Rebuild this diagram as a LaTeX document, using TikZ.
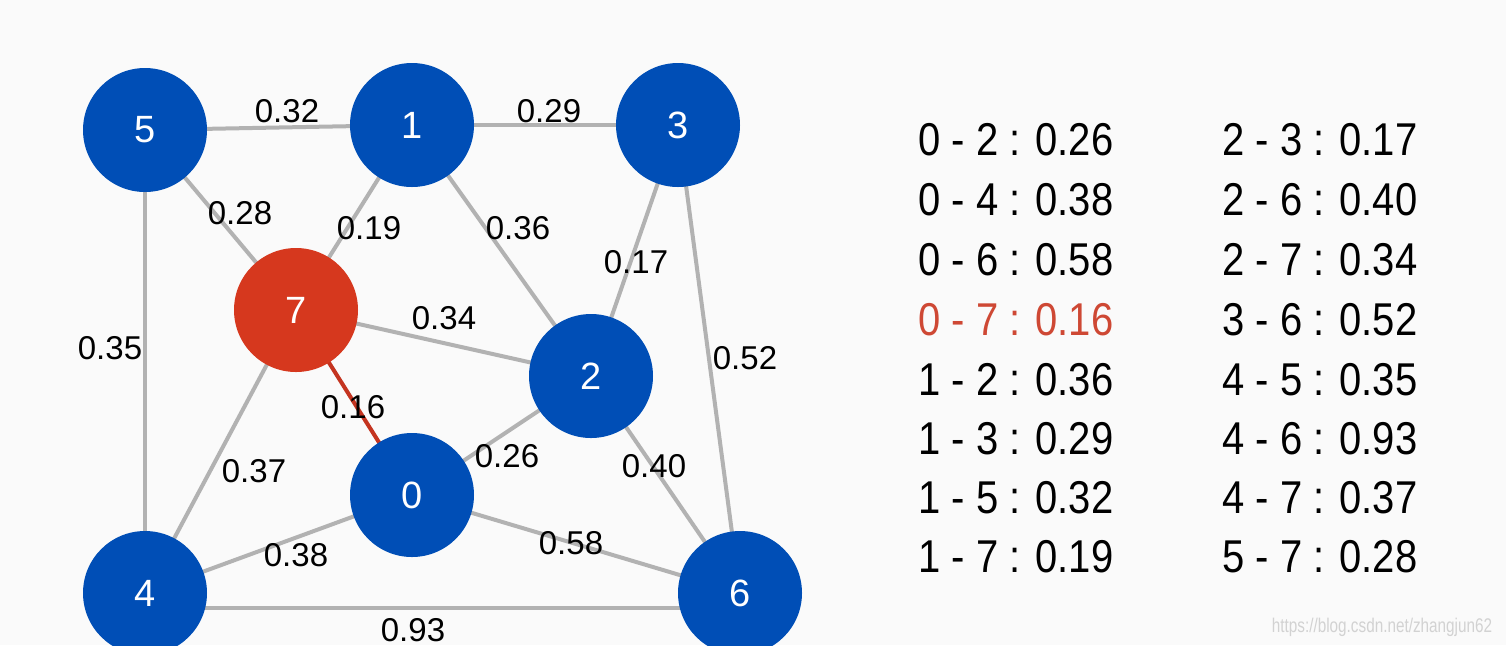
\documentclass[tikz,border=0pt]{standalone}
\usepackage{graphicx}
\usepackage{fontspec}
\setmainfont{Liberation Sans}
\definecolor{nodeblue}{RGB}{0,78,182}
\definecolor{nodered}{RGB}{214,56,30}
\definecolor{edgegray}{RGB}{178,178,178}
\definecolor{edgered}{RGB}{196,52,32}
\definecolor{textred}{RGB}{206,72,52}
\definecolor{bg}{RGB}{250,250,250}
\definecolor{wm}{RGB}{210,210,210}
\newcommand{\tall}[1]{\scalebox{1}[1.15]{#1}}
\begin{document}
\begin{tikzpicture}[x=0.5pt,y=-0.5pt,
  vertex/.style={circle,minimum size=62pt,inner sep=0pt,text=white,font=\fontsize{19}{19}\selectfont},
  bluev/.style={vertex,fill=nodeblue},
  redv/.style={vertex,fill=nodered},
  edge/.style={draw=edgegray,line width=2pt},
  hotedge/.style={draw=edgered,line width=2pt},
  wlabel/.style={font=\fontsize{16.5}{16.5}\selectfont,text=black,inner sep=0pt},
  tabrow/.style={font=\fontsize{20}{20}\selectfont,anchor=west,inner sep=0pt,text=black}]
\fill[bg] (0,0) rectangle (1506,645);
\useasboundingbox (0,0) rectangle (1506,645);
% vertex positions
\coordinate (p5) at (145,130);
\coordinate (p1) at (412,125);
\coordinate (p3) at (678,125);
\coordinate (p7) at (296,310);
\coordinate (p2) at (591,376);
\coordinate (p0) at (412,495);
\coordinate (p4) at (145,593);
\coordinate (p6) at (740,593);
% edges
\draw[edge] (p5) -- (p1);
\draw[edge] (p1) -- (p3);
\draw[edge] (p5) -- (p7);
\draw[edge] (p1) -- (p7);
\draw[edge] (p1) -- (p2);
\draw[edge] (p3) -- (p2);
\draw[edge] (p3) -- (p6);
\draw[edge] (p5) -- (p4);
\draw[edge] (p7) -- (p2);
\draw[edge] (p7) -- (p4);
\draw[edge] (p0) -- (p2);
\draw[edge] (p2) -- (p6);
\draw[edge] (p0) -- (p4);
\draw[edge] (p0) -- (p6);
\draw[edge] ([yshift=-15*0.5pt]p4) -- ([yshift=-15*0.5pt]p6);
\draw[hotedge] (p7) -- (p0);
% vertices
\node[bluev] (n5) at (p5) {5};
\node[bluev] (n1) at (p1) {1};
\node[bluev] (n3) at (p3) {3};
\node[redv]  (n7) at (p7) {7};
\node[bluev] (n2) at (p2) {2};
\node[bluev] (n0) at (p0) {0};
\node[bluev] (n4) at (p4) {4};
\node[bluev] (n6) at (p6) {6};
% weights
\node[wlabel] (w51) at (287,111) {0.32};
\node[wlabel] (w13) at (549,111) {0.29};
\node[wlabel] (w57) at (240,213) {0.28};
\node[wlabel] (w17) at (369,228) {0.19};
\node[wlabel] (w12) at (518,228) {0.36};
\node[wlabel] (w32) at (636,262) {0.17};
\node[wlabel] (w36) at (745,358) {0.52};
\node[wlabel] (w54) at (110,348) {0.35};
\node[wlabel] (w72) at (444,318) {0.34};
\node[wlabel] (w70) at (353,407) {0.16};
\node[wlabel] (w74) at (254,471) {0.37};
\node[wlabel] (w02) at (507,456) {0.26};
\node[wlabel] (w26) at (654,466) {0.40};
\node[wlabel] (w04) at (296,555) {0.38};
\node[wlabel] (w06) at (571,543) {0.58};
\node[wlabel] (w46) at (413,630) {0.93};
% table
\node[tabrow] (a1) at (918,140) {\tall{0 - 2 : 0.26}};
\node[tabrow] (a2) at (918,200) {\tall{0 - 4 : 0.38}};
\node[tabrow] (a3) at (918,260) {\tall{0 - 6 : 0.58}};
\node[tabrow,text=textred] (a4) at (918,320) {\tall{0 - 7 : 0.16}};
\node[tabrow] (a5) at (918,380) {\tall{1 - 2 : 0.36}};
\node[tabrow] (a6) at (918,439) {\tall{1 - 3 : 0.29}};
\node[tabrow] (a7) at (918,498) {\tall{1 - 5 : 0.32}};
\node[tabrow] (a8) at (918,557) {\tall{1 - 7 : 0.19}};
\node[tabrow] (b1) at (1222,140) {\tall{2 - 3 : 0.17}};
\node[tabrow] (b2) at (1222,200) {\tall{2 - 6 : 0.40}};
\node[tabrow] (b3) at (1222,260) {\tall{2 - 7 : 0.34}};
\node[tabrow] (b4) at (1222,320) {\tall{3 - 6 : 0.52}};
\node[tabrow] (b5) at (1222,380) {\tall{4 - 5 : 0.35}};
\node[tabrow] (b6) at (1222,439) {\tall{4 - 6 : 0.93}};
\node[tabrow] (b7) at (1222,498) {\tall{4 - 7 : 0.37}};
\node[tabrow] (b8) at (1222,557) {\tall{5 - 7 : 0.28}};
% watermark
\node[font=\fontsize{9}{9}\selectfont,text=wm,inner sep=0pt] (wmk) at (1382,627) {\scalebox{0.85}[1.1]{https://blog.csdn.net/zhangjun62}};
\end{tikzpicture}
\end{document}
